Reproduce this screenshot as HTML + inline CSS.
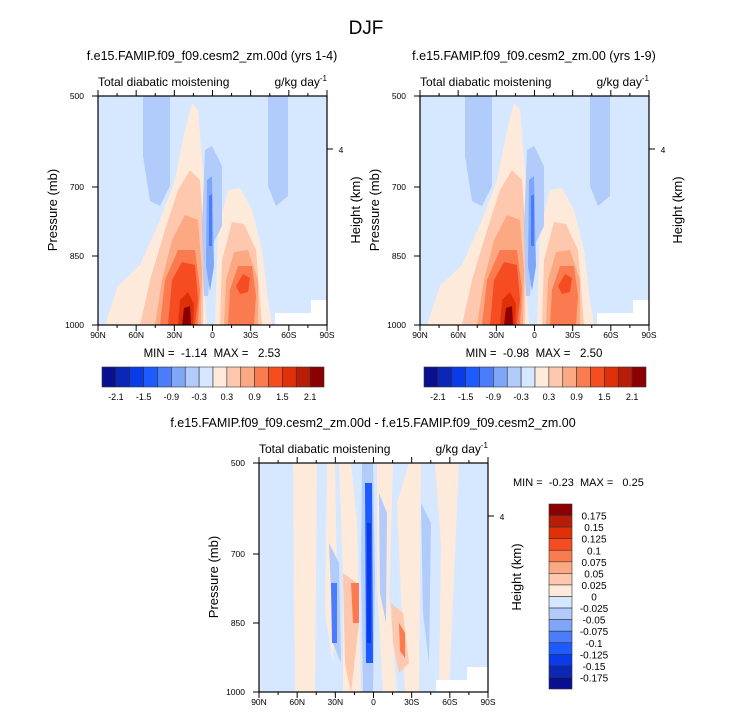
<!DOCTYPE html>
<html><head><meta charset="utf-8"><style>
body{margin:0;background:#fff}
svg text{font-family:"Liberation Sans",sans-serif;fill:#000;white-space:pre}
</style></head><body>
<svg id="s" width="733" height="716" xmlns="http://www.w3.org/2000/svg">
<text x="366" y="34" font-size="19" text-anchor="middle">DJF</text>
</svg>
<script>
const NS="http://www.w3.org/2000/svg";
const svg=document.getElementById('s');
const colors=['#0a0f8f','#0b27b8','#0a3be8','#1e5bff','#4a7dfb','#80a6f8','#b1cbfb','#d6e8ff','#feeadb','#fdc8ae','#fca882','#fb7b50','#f64c22','#e0300a','#b81d08','#8b0000'];
const hLabels=['-2.1','-1.5','-0.9','-0.3','0.3','0.9','1.5','2.1'];
const vLabels=['0.175','0.15','0.125','0.1','0.075','0.05','0.025','0','-0.025','-0.05','-0.075','-0.1','-0.125','-0.15','-0.175'];
const latLabels=['90N','60N','30N','0','30S','60S','90S'];
const presLabels=['500','700','850','1000'];
const presY=[0,91,160,229];
function el(t,a,p){const e=document.createElementNS(NS,t);for(const k in a)e.setAttribute(k,a[k]);(p||svg).appendChild(e);return e;}
function txt(x,y,s,fs,anchor,p,rot){const e=el('text',{x:x,y:y,'font-size':fs,'text-anchor':anchor||'start'},p);e.textContent=s;if(rot)e.setAttribute('transform','rotate(-90 '+x+' '+y+')');return e;}
function poly(g,pts,c){const e=el('path',{d:'M'+pts.map(p=>p.join(',')).join(' L')+'Z',fill:c},g);return e;}

const fullShapes=[
 [[[45,0],[72,0],[72,90],[62,110],[52,105],[45,60]],6],
 [[[170,0],[190,0],[190,100],[178,110],[170,90]],6],
 [[[7,229],[20,190],[42,169],[62,124],[77,84],[87,34],[94,7],[100,14],[105,74],[109,134],[107,204],[109,229]],8],
 [[[42,229],[52,184],[67,134],[80,94],[92,74],[102,84],[106,144],[105,229]],9],
 [[[57,229],[64,184],[74,144],[87,119],[100,124],[104,174],[103,229]],10],
 [[[62,229],[67,184],[80,154],[97,154],[102,194],[100,229]],11],
 [[[70,229],[74,184],[84,166],[97,169],[100,204],[97,229]],12],
 [[[80,229],[82,204],[90,196],[96,208],[95,229]],13],
 [[[84,229],[86,212],[92,210],[93,229]],15],
 [[[117,229],[120,134],[130,94],[142,92],[154,114],[164,154],[170,204],[174,229]],8],
 [[[122,229],[124,164],[134,126],[146,128],[158,154],[164,229]],9],
 [[[126,229],[128,184],[136,156],[150,154],[160,184],[160,229]],10],
 [[[130,229],[132,194],[140,170],[154,170],[158,200],[156,229]],11],
 [[[138,190],[145,178],[152,182],[150,196],[142,198]],12],
 [[[107,54],[114,50],[124,70],[124,130],[114,150],[110,200],[106,200],[104,130]],6],
 [[[109,84],[114,80],[116,170],[112,195],[108,170]],5],
 [[[111,100],[114,98],[114,150],[111,150]],4],
 [[[177,229],[177,217],[213,217],[213,204],[229,204],[229,229]],'#ffffff']
];
const diffShapes=[
 [[[34,0],[58,0],[56,229],[36,229]],8],
 [[[68,0],[76,0],[78,120],[74,200],[66,150]],8],
 [[[80,0],[92,0],[98,60],[102,229],[84,229],[84,110]],8],
 [[[118,0],[134,0],[130,130],[138,229],[124,229],[118,120]],8],
 [[[138,40],[150,0],[162,0],[160,229],[146,229],[142,130]],8],
 [[[176,0],[200,0],[196,90],[190,229],[180,229],[182,80]],8],
 [[[70,80],[80,100],[82,200],[74,180]],6],
 [[[72,120],[78,120],[78,180],[73,180]],4],
 [[[103,0],[114,0],[116,120],[114,229],[104,229],[102,100]],6],
 [[[106,20],[113,20],[114,200],[107,200]],3],
 [[[108,60],[112,60],[112,180],[108,180]],2],
 [[[120,30],[128,50],[127,160],[121,130]],6],
 [[[162,40],[172,60],[170,200],[164,150]],6],
 [[[84,110],[98,120],[100,160],[92,230],[86,200]],9],
 [[[92,120],[100,120],[100,160],[94,160]],11],
 [[[132,140],[144,150],[150,200],[140,210],[134,180]],9],
 [[[140,160],[146,170],[146,195],[141,188]],11],
 [[[177,229],[177,217],[208,217],[208,204],[229,204],[229,229]],'#ffffff']
];

function panel(x0,y0,title,shapes,name){
 const g=el('g',{});
 txt(x0+114,y0-36,title,12.5,'middle',g);
 txt(x0,y0-10,'Total diabatic moistening',12,'start',g);
 const u=txt(x0+229,y0-10,'g/kg day',12,'end',g);
 const sup=el('tspan',{'font-size':8,dy:-5},u);sup.textContent='-1';
 const clipId='c'+name;const cp=el('clipPath',{id:clipId},g);el('rect',{x:0,y:0,width:229,height:229},cp);
 const p=el('g',{'clip-path':'url(#'+clipId+')',transform:'translate('+x0+','+y0+')'},g);
 
 el('rect',{x:0,y:0,width:229,height:229,fill:colors[7]},p);
 shapes.forEach(s=>{poly(p,s[0],typeof s[1]==='number'?colors[s[1]]:s[1]);});
 el('rect',{x:x0,y:y0,width:229,height:229,fill:'none',stroke:'#000','stroke-width':1.2},g);
 for(let i=0;i<=12;i++){const x=x0+i*229/12,L=i%2?3:6;
  el('line',{x1:x,y1:y0,x2:x,y2:y0-L,stroke:'#000'},g);el('line',{x1:x,y1:y0+229,x2:x,y2:y0+229+L,stroke:'#000'},g);}
 latLabels.forEach((l,i)=>{txt(x0+i*229/6,y0+242,l,8.5,'middle',g);});
 presLabels.forEach((l,i)=>{const y=y0+presY[i];el('line',{x1:x0,y1:y,x2:x0-6,y2:y,stroke:'#000'},g);
  txt(x0-14,y+3,l,8.5,'end',g);});
 el('line',{x1:x0+229,y1:y0+53,x2:x0+235,y2:y0+53,stroke:'#000'},g);
 txt(x0+243,y0+57,'4',8.5,'middle',g);
 txt(x0-41,y0+114,'Pressure (mb)',13,'middle',g,true);
 txt(x0+262,y0+114,'Height (km)',13,'middle',g,true);
}
panel(98,96,'f.e15.FAMIP.f09_f09.cesm2_zm.00d (yrs 1-4)',fullShapes,'panel-model');
panel(420,96,'f.e15.FAMIP.f09_f09.cesm2_zm.00 (yrs 1-9)',fullShapes,'panel-control');
panel(259,463,'f.e15.FAMIP.f09_f09.cesm2_zm.00d - f.e15.FAMIP.f09_f09.cesm2_zm.00',diffShapes,'panel-difference');
txt(212,357,'MIN =  -1.14  MAX =   2.53',11.5,'middle');
txt(534,357,'MIN =  -0.98  MAX =   2.50',11.5,'middle');
txt(513,486,'MIN =  -0.23  MAX =   0.25',11,'start');

function hbar(x0,y0,name){const g=el('g',{});const w=222/16;
 colors.forEach((c,i)=>{el('rect',{x:x0+i*w,y:y0,width:w,height:20,fill:c,stroke:'#333','stroke-width':0.6},g);});
 hLabels.forEach((l,i)=>{txt(x0+(2*i+1)*w,y0+33,l,9,'middle',g);});}
hbar(102,367,'colorbar-model');hbar(424,367,'colorbar-control');
(function(){const g=el('g',{});const h=185/16;
 colors.slice().reverse().forEach((c,i)=>{el('rect',{x:549,y:504+i*h,width:23,height:h,fill:c,stroke:'#333','stroke-width':0.6},g);});
 vLabels.forEach((l,i)=>{txt(594,504+(i+1)*h+4,l,10,'middle',g);});})();
</script>
</body></html>
